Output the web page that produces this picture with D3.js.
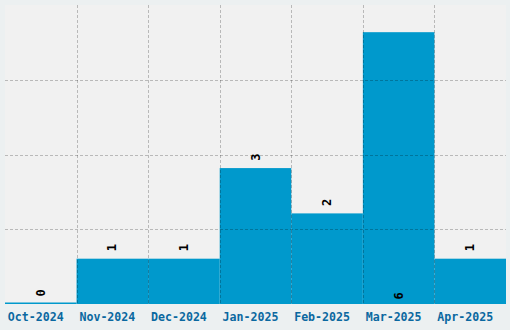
<!DOCTYPE html>
<html>
<head>
<meta charset="utf-8">
<script src="https://cdn.jsdelivr.net/npm/d3@7/dist/d3.min.js"></script>
<style>
  html, body { margin: 0; padding: 0; background: #ecf0f1; }
  svg { display: block; }
</style>
</head>
<body>
<svg id="chart" width="510" height="330"></svg>
<script>
const months = ["Oct-2024", "Nov-2024", "Dec-2024", "Jan-2025", "Feb-2025", "Mar-2025", "Apr-2025"];
const counts = [0, 1, 1, 3, 2, 6, 1];
const yGridTicks = [1.65, 3.3, 4.95];

const W = 510, H = 330;
const m = { left: 5, right: 4, top: 5, bottom: 26 };
const svg = d3.select("#chart");

const x = d3.scaleBand().domain(months).range([m.left, W - m.right]).padding(0);
const y = d3.scaleLinear().domain([0, d3.max(counts) * 1.1]).range([H - m.bottom, m.top]);

svg.append("rect").attr("x", 0).attr("y", 0).attr("width", W).attr("height", H).attr("fill", "#ecf0f1");
svg.append("rect")
  .attr("x", m.left).attr("y", m.top)
  .attr("width", W - m.left - m.right).attr("height", H - m.top - m.bottom)
  .attr("fill", "#f1f1f1");

const data = months.map((mo, i) => ({ mo, v: counts[i] }));

// bars
svg.append("g").selectAll("rect").data(data).join("rect")
  .attr("x", d => x(d.mo))
  .attr("y", d => Math.min(y(d.v), y(0) - 1.5))
  .attr("width", x.bandwidth())
  .attr("height", d => Math.max(y(0) - y(d.v), 1.5))
  .attr("fill", "#0099cc");

// grid lines on top
const grid = svg.append("g").attr("stroke", "rgba(0,0,0,0.23)").attr("stroke-width", 1).attr("stroke-dasharray", "3,2");
grid.selectAll("line.h").data(yGridTicks).join("line").attr("class", "h")
  .attr("x1", m.left).attr("x2", W - m.right)
  .attr("y1", d => Math.round(y(d)) + 0.5).attr("y2", d => Math.round(y(d)) + 0.5);
grid.selectAll("line.v").data(months.slice(1)).join("line").attr("class", "v")
  .attr("x1", d => Math.round(x(d)) + 0.5).attr("x2", d => Math.round(x(d)) + 0.5)
  .attr("y1", m.top).attr("y2", H - m.bottom);

// value labels
const maxV = d3.max(counts);
svg.append("g").selectAll("text").data(data).join("text")
  .attr("transform", d => {
    const cx = x(d.mo) + x.bandwidth() / 2;
    const cy = d.v === maxV ? y(0) - 8 : y(d.v) - 11;
    return `translate(${cx},${cy}) rotate(-90)`;
  })
  .attr("text-anchor", "middle")
  .attr("dominant-baseline", "central")
  .attr("font-family", "DejaVu Sans Mono, monospace")
  .attr("font-weight", "bold")
  .attr("font-size", 12)
  .attr("fill", "#000")
  .text(d => d.v);

// x axis
const xAxis = d3.axisBottom(x).tickSize(0).tickPadding(9);
const gx = svg.append("g").attr("transform", `translate(0,${H - m.bottom})`).call(xAxis);
gx.select(".domain").remove();
gx.selectAll("text")
  .attr("dx", -5)
  .attr("font-family", "DejaVu Sans Mono, monospace")
  .attr("font-weight", "bold")
  .attr("font-size", 11.6)
  .attr("fill", "#0a68a0");
</script>
</body>
</html>
